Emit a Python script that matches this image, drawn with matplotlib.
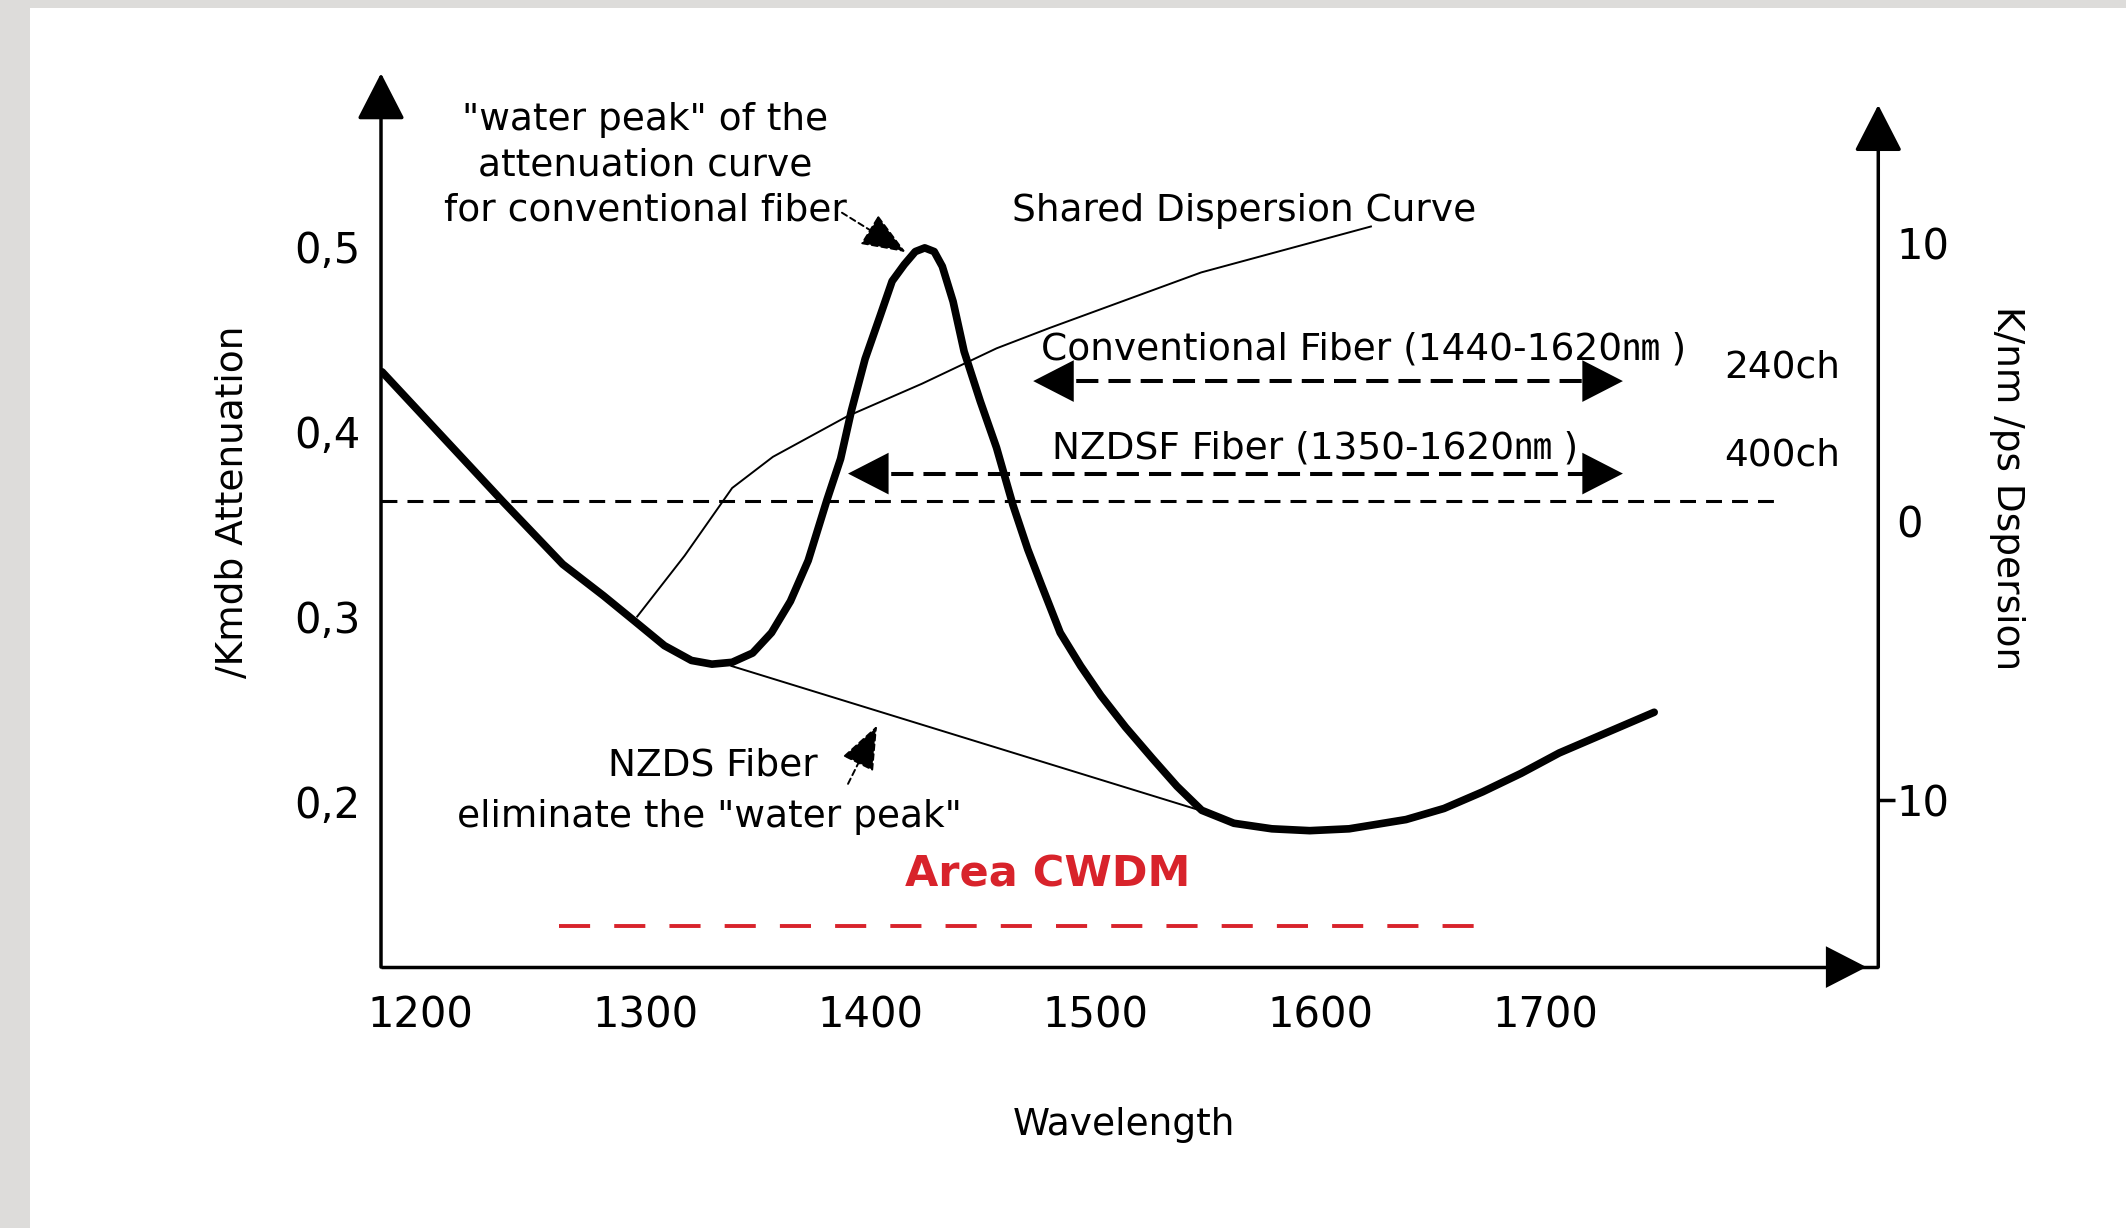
import matplotlib
matplotlib.use('Agg')
import matplotlib.pyplot as plt
from matplotlib.patches import Rectangle

# attenuation curve of conventional fiber (dB/km)
att_wl = [1182.9, 1236.5, 1263.2, 1281.3, 1295.4, 1308.4, 1320.4, 1329.5,
          1338.5, 1347.6, 1356.0, 1364.4, 1372.3, 1380.7, 1386.7, 1391.5, 1397.6,
          1404.2, 1409.6, 1415.0, 1419.9, 1424.1, 1428.3, 1431.9, 1436.7, 1441.6,
          1448.8, 1456.0, 1463.3, 1469.9, 1475.9, 1484.3, 1493.4, 1502.4, 1513.3,
          1525.3, 1536.2, 1547.2, 1561.5, 1578.4, 1595.2, 1612.7, 1638.0, 1654.9,
          1672.1, 1689.2, 1706.1, 1727.2, 1748.3]
att_val = [0.432, 0.362, 0.328, 0.311, 0.297, 0.284, 0.276, 0.274,
           0.275, 0.280, 0.291, 0.308, 0.330, 0.363, 0.385, 0.411, 0.439,
           0.462, 0.481, 0.490, 0.497, 0.499, 0.497, 0.489, 0.470, 0.443,
           0.416, 0.391, 0.360, 0.336, 0.317, 0.291, 0.273, 0.257, 0.240,
           0.223, 0.208, 0.195, 0.188, 0.185, 0.184, 0.185, 0.190, 0.196,
           0.205, 0.215, 0.226, 0.237, 0.248]

# shared dispersion curve (ps/nm/km), right axis
disp_wl = [1296.3, 1317.4, 1338.5, 1356.6, 1389.7, 1422.9, 1456.0, 1479.5, 1547.0, 1622.4]
disp_val = [-3.42, -1.23, 1.20, 2.32, 3.78, 4.95, 6.22, 6.95, 8.95, 10.6]

# NZDS fiber: straight line skipping the water peak
nzds_wl = [1338.2, 1546.4]
nzds_att = [0.273, 0.195]

# zero dispersion reference line
zero_wl = [1182.4, 1804.3]
zero_att = 0.362

# CWDM band (red dashes)
cwdm_wl = [1261.4, 1672.4]
cwdm_att = 0.1326

# band arrows as drawn
conv_wl = [1472.3, 1734.4]
conv_att = 0.427
nzdsf_wl = [1390.0, 1734.4]
nzdsf_att = 0.377

x_ticks = [1200, 1300, 1400, 1500, 1600, 1700]
left_ticks = [0.2, 0.3, 0.4, 0.5]
left_labels = ['0,2', '0,3', '0,4', '0,5']
right_ticks = [10, 0]
right_labels = ['10', '0']

RED = '#d8232b'
CJK = ['DejaVu Sans', 'Noto Sans CJK KR']

fig = plt.figure(figsize=(21.26, 12.28), dpi=100, facecolor='#dddcda')
fig.add_artist(Rectangle((30 / 2126, 0), 1, 1 - 8 / 1228, transform=fig.transFigure,
                         facecolor='white', edgecolor='none', zorder=-1))

ax = fig.add_axes([0.17921, 0.21247, 0.70427, 0.72792])
ax.set_xlim(1182.43, 1847.9)
ax.set_ylim(0.11026, 0.59341)
ax.patch.set_visible(False)
ax2 = ax.twinx()
ax2.set_ylim(-16.02, 16.11)
for a in (ax, ax2):
    for s in a.spines.values():
        s.set_visible(False)

ax.set_xticks(x_ticks, [str(v) for v in x_ticks])
ax.tick_params(axis='x', length=0, pad=20, labelsize=30)
ax.set_yticks(left_ticks, left_labels)
ax.tick_params(axis='y', length=0, pad=15, labelsize=30)
ax2.set_yticks(right_ticks, right_labels)
ax2.tick_params(axis='y', which='major', length=0, pad=13, labelsize=30)
# -10 : the minus sign is a tick mark on the axis
ax2.set_yticks([-10], ['10'], minor=True)
ax2.tick_params(axis='y', which='minor', length=12, width=2.5, pad=1, labelsize=30, direction='out')

# axis lines with arrow heads
head = '-|>,head_length=1.46,head_width=0.75'
ap = dict(arrowstyle=head, mutation_scale=20, lw=2.5, color='k', shrinkA=0, shrinkB=0)
hp = dict(arrowstyle=head, mutation_scale=20, lw=0, color='k', shrinkA=0, shrinkB=0)
ax.annotate('', xy=(0, 1), xytext=(0, 0), xycoords='axes fraction', arrowprops=ap)
ax.annotate('', xy=(1, 0.9645), xytext=(1, 0), xycoords='axes fraction', arrowprops=ap)
ax.plot([0, 1], [0, 0], color='k', lw=2.5, transform=ax.transAxes, clip_on=False,
        solid_capstyle='butt')
ax.annotate('', xy=(0.9921, 0), xytext=(0.95, 0), xycoords='axes fraction', arrowprops=hp)

# curves
ax.plot(att_wl, att_val, color='k', lw=5.5, solid_joinstyle='round', solid_capstyle='round', zorder=4)
ax2.plot(disp_wl, disp_val, color='k', lw=1.4, solid_joinstyle='round')
ax.plot(nzds_wl, nzds_att, color='k', lw=1.4)
ax.plot(zero_wl, [zero_att, zero_att], color='k', lw=2.2, dashes=(5.2, 3.3))
ax.plot(cwdm_wl, [cwdm_att, cwdm_att], color=RED, lw=2.8, dashes=(8, 6.2))

# double headed dashed arrows
for (x0, x1), y in [(conv_wl, conv_att), (nzdsf_wl, nzdsf_att)]:
    ax.plot([x0 + 5, x1 - 5], [y, y], color='k', lw=2.9, dashes=(5.5, 2.5))
    ax.annotate('', xy=(x0, y), xytext=(40, 0), textcoords='offset points', arrowprops=hp)
    ax.annotate('', xy=(x1, y), xytext=(-40, 0), textcoords='offset points', arrowprops=hp)

# notes
ax.text(1299.9, 0.5436, '"water peak" of the\nattenuation curve\nfor conventional fiber',
        ha='center', va='center', fontsize=27, linespacing=1.33)
ap2 = dict(arrowstyle='-|>,head_length=1.4,head_width=0.55', mutation_scale=20, lw=1.4,
           color='k', linestyle=(0, (3, 2)), shrinkA=0, shrinkB=0)
ax.annotate('', xy=(1415.6, 0.4967), xytext=(1387.3, 0.518), arrowprops=ap2)
ax.annotate('', xy=(1402.9, 0.2408), xytext=(1390.0, 0.2093), arrowprops=ap2)

ax.text(1462.7, 0.5209, 'Shared Dispersion Curve', ha='left', va='center_baseline', fontsize=27)
ax.text(1475.9, 0.4462, 'Conventional Fiber (1440-1620\u339a )', ha='left',
        va='center_baseline', fontsize=27, family=CJK)
ax.text(1779.6, 0.4366, '240ch', ha='left', va='center_baseline', fontsize=27)
ax.text(1480.7, 0.3927, 'NZDSF Fiber (1350-1620\u339a )', ha='left',
        va='center_baseline', fontsize=27, family=CJK)
ax.text(1779.6, 0.389, '400ch', ha='left', va='center_baseline', fontsize=27)
ax.text(1330.1, 0.2212, 'NZDS Fiber', ha='center', va='center_baseline', fontsize=27)
ax.text(1328.3, 0.1934, 'eliminate the "water peak"', ha='center', va='center_baseline', fontsize=27)
ax.text(1478.9, 0.1626, 'Area CWDM', ha='center', va='center_baseline', fontsize=31,
        color=RED, fontweight='bold')

ax.set_ylabel('/Kmdb Attenuation', fontsize=27, va='center')
ax.yaxis.set_label_coords(-0.0987, 0.5208)
ax2.set_ylabel('K/nm /ps Dspersion', fontsize=27, rotation=270, va='center')
ax2.yaxis.set_label_coords(1.0857, 0.536)
ax.set_xlabel('Wavelength', fontsize=27, va='center')
ax.xaxis.set_label_coords(0.4962, -0.1767)

fig.savefig('out.png', dpi=100, facecolor=fig.get_facecolor())
